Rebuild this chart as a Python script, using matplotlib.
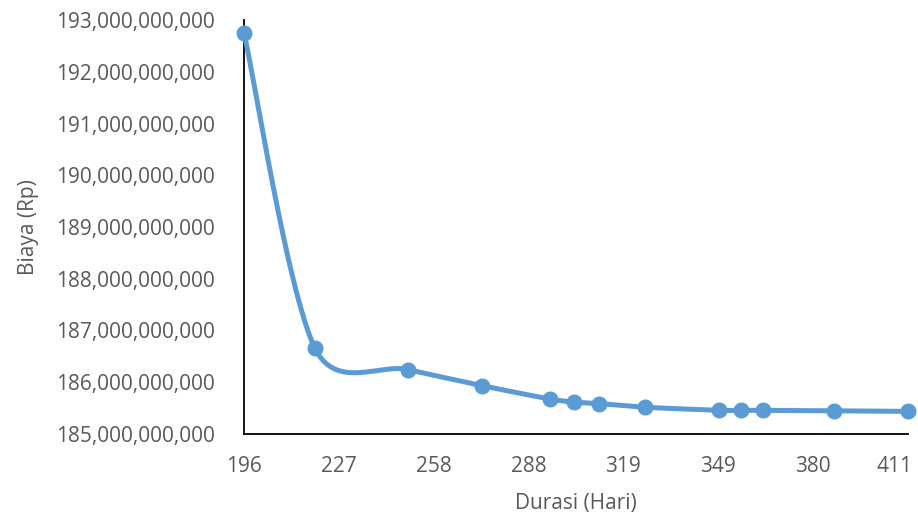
import numpy as np
import matplotlib.pyplot as plt
from matplotlib.ticker import FuncFormatter
from matplotlib.transforms import ScaledTranslation

# durasi proyek (hari) dan biaya total (Rp)
durasi = [196, 219, 249, 273, 295, 303, 311, 326, 350, 357, 364, 387, 411]
biaya = [192.76e9, 186.65e9, 186.24e9, 185.93e9, 185.67e9, 185.61e9, 185.58e9,
         185.51e9, 185.45e9, 185.45e9, 185.45e9, 185.44e9, 185.43e9]
xtick_labels = ["196", "227", "258", "288", "319", "349", "380", "411"]

biru = "#5B9BD5"
abu = "#595959"
plt.rcParams['font.family'] = ['Open Sans', 'DejaVu Sans']

fig = plt.figure(figsize=(9.18, 5.18), dpi=100)
ax = fig.add_axes([0.2658, 0.163, 0.723, 0.7976])
xmin, xmax = 196, 411
ymin, ymax = 185e9, 193e9
ax.set_xlim(xmin, xmax)
ax.set_ylim(ymin, ymax)

# garis halus (bezier ala catmull-rom) dihitung di ruang piksel sumbu,
# panjang lengan kontrol dibatasi setengah panjang segmen
W = fig.get_figwidth() * 0.723
H = fig.get_figheight() * 0.7976
u = (np.array(durasi) - xmin) / (xmax - xmin) * W
v = (np.array(biaya) - ymin) / (ymax - ymin) * H
P = np.column_stack([u, v])
n = len(P)


def lengan(a, b, seg):
    d = (b - a) / 6
    L = np.hypot(*d)
    batas = 0.5 * seg
    if L > batas:
        d = d * batas / L
    return d


kurva = []
t = np.linspace(0, 1, 40)[:, None]
for i in range(n - 1):
    p0 = P[max(i - 1, 0)]
    p1 = P[i]
    p2 = P[i + 1]
    p3 = P[min(i + 2, n - 1)]
    seg = np.hypot(*(p2 - p1))
    c1 = p1 + lengan(p0, p2, seg)
    c2 = p2 - lengan(p1, p3, seg)
    b = ((1 - t) ** 3) * p1 + 3 * ((1 - t) ** 2) * t * c1 + 3 * (1 - t) * t ** 2 * c2 + t ** 3 * p2
    kurva.append(b)
kurva = np.vstack(kurva)
kx = kurva[:, 0] / W * (xmax - xmin) + xmin
ky = kurva[:, 1] / H * (ymax - ymin) + ymin

ax.plot(kx, ky, color=biru, lw=3.6, solid_capstyle='round', clip_on=False, zorder=3)
ax.plot(durasi, biaya, 'o', color=biru, ms=10.5, clip_on=False, zorder=4)

ax.set_xticks(np.linspace(xmin, xmax, len(xtick_labels)))
ax.set_xticklabels(xtick_labels)
ax.set_yticks(np.arange(185e9, 193.5e9, 1e9))
ax.yaxis.set_major_formatter(FuncFormatter(lambda val, pos: f"{val:,.0f}"))
ax.tick_params(axis='both', length=0, colors=abu, labelsize=15)
ax.tick_params(axis='x', pad=16)
ax.tick_params(axis='y', pad=21)

# label terakhir digeser ke kiri agar tidak terpotong
lbl = ax.get_xticklabels()[-1]
lbl.set_transform(lbl.get_transform() + ScaledTranslation(-13 / 100, 0, fig.dpi_scale_trans))

for s in ['top', 'right']:
    ax.spines[s].set_visible(False)
for s in ['left', 'bottom']:
    ax.spines[s].set_color('black')
    ax.spines[s].set_linewidth(1.3)

ax.set_xlabel("Durasi (Hari)", color=abu, fontsize=15, labelpad=12)
ax.set_ylabel("Biaya (Rp)", color=abu, fontsize=15, labelpad=12)

fig.savefig("out.png", dpi=100)
